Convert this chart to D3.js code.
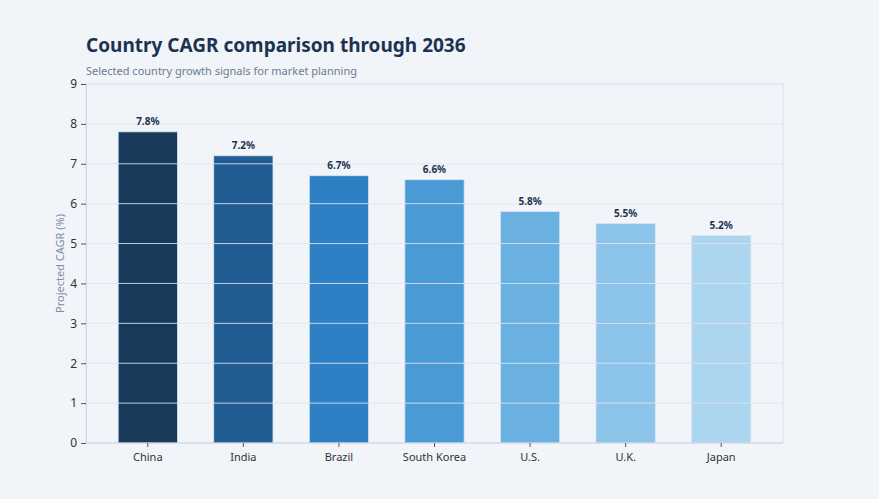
<!DOCTYPE html>
<html>
<head>
<meta charset="utf-8">
<script src="https://cdn.jsdelivr.net/npm/d3@7"></script>
<style>
  body { margin: 0; background: #f1f4f9; font-family: "Noto Sans", sans-serif; }
  svg { display: block; }
</style>
</head>
<body>
<svg id="chart" width="879" height="499"></svg>
<script>
// chart data
const countries = ["China", "India", "Brazil", "South Korea", "U.S.", "U.K.", "Japan"];
const cagr = [7.8, 7.2, 6.7, 6.6, 5.8, 5.5, 5.2];
const barColors = ["#1a3a5c", "#215d92", "#2f7fc5", "#4a9ad6", "#6ab1e2", "#8cc4e9", "#acd5f0"];
const yTicks = [0, 1, 2, 3, 4, 5, 6, 7, 8, 9];

const svg = d3.select("#chart"),
	width = +svg.attr("width"),
	height = +svg.attr("height");

// plot frame
const frame = { left: 86, right: 783, top: 84, bottom: 443 };

svg.append("rect").attr("width", width).attr("height", height).attr("fill", "#f1f4f9");

const x = d3.scaleBand()
	.domain(countries)
	.range([frame.left + 14, frame.right - 14])
	.paddingInner(0.38)
	.paddingOuter(0.19);

const y = d3.scaleLinear().domain([0, 9]).range([frame.bottom, frame.top]);

// title + subtitle
svg.append("text")
	.attr("x", 86).attr("y", 52)
	.attr("font-size", 19).attr("font-weight", 700)
	.attr("fill", "#1c3350")
	.text("Country CAGR comparison through 2036");

svg.append("text")
	.attr("x", 86).attr("y", 75)
	.attr("font-size", 11)
	.attr("fill", "#6b7c90")
	.text("Selected country growth signals for market planning");

// frame border
svg.append("rect")
	.attr("x", frame.left).attr("y", frame.top)
	.attr("width", frame.right - frame.left).attr("height", frame.bottom - frame.top)
	.attr("fill", "none").attr("stroke", "#dbe1ea").attr("stroke-width", 1);

// bars
svg.append("g").selectAll("rect")
	.data(countries)
	.enter().append("rect")
	.attr("x", d => x(d))
	.attr("width", x.bandwidth())
	.attr("y", (d, i) => y(cagr[i]))
	.attr("height", (d, i) => y(0) - y(cagr[i]))
	.attr("fill", (d, i) => barColors[i])
	.attr("stroke", "#d6e4f2").attr("stroke-width", 0.8);

// gridlines drawn on top of bars
svg.append("g").selectAll("line")
	.data(yTicks.slice(1))
	.enter().append("line")
	.attr("x1", frame.left).attr("x2", frame.right)
	.attr("y1", d => y(d)).attr("y2", d => y(d))
	.attr("stroke", "#dfe5ee").attr("stroke-opacity", 0.85).attr("stroke-width", 1);

// value labels
svg.append("g").selectAll("text")
	.data(countries)
	.enter().append("text")
	.attr("x", d => x(d) + x.bandwidth() / 2)
	.attr("y", (d, i) => y(cagr[i]) - 7)
	.attr("text-anchor", "middle")
	.attr("font-size", 10).attr("font-weight", 700)
	.attr("fill", "#1c3350")
	.text((d, i) => cagr[i].toFixed(1) + "%");

// y axis
const yAxis = svg.append("g")
	.attr("transform", `translate(${frame.left},0)`)
	.call(d3.axisLeft(y).tickValues(yTicks).tickSize(5).tickPadding(4));
yAxis.select(".domain").attr("stroke", "#cfd7e2");
yAxis.selectAll(".tick line").attr("stroke", "#555");
yAxis.selectAll("text").attr("font-size", 12).attr("fill", "#333").attr("font-family", "Noto Sans");

// x axis
const xAxis = svg.append("g")
	.attr("transform", `translate(0,${frame.bottom})`)
	.call(d3.axisBottom(x).tickSize(4).tickPadding(6));
xAxis.select(".domain").attr("stroke", "#cfd7e2").attr("d", `M${frame.left},0H${frame.right}`);
xAxis.selectAll(".tick line").attr("stroke", "#555");
xAxis.selectAll("text").attr("font-size", 11).attr("fill", "#333").attr("font-family", "Noto Sans");

// y axis label
svg.append("text")
	.attr("transform", `translate(64,${(frame.top + frame.bottom) / 2}) rotate(-90)`)
	.attr("text-anchor", "middle")
	.attr("font-size", 11)
	.attr("fill", "#7d8fa3")
	.text("Projected CAGR (%)");
</script>
</body>
</html>
